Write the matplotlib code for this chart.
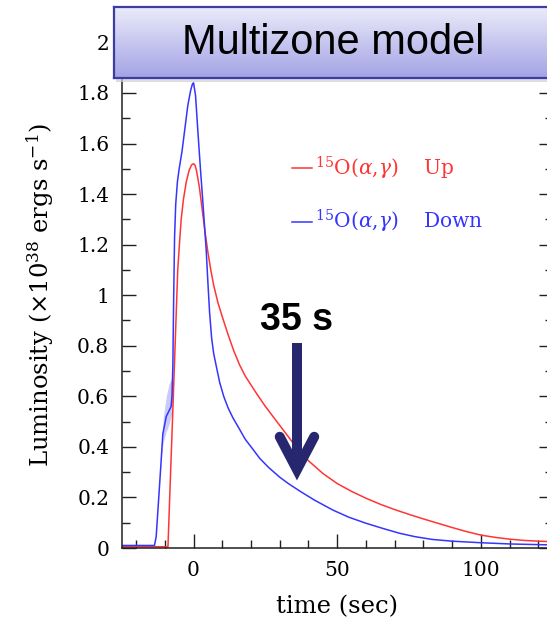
import numpy as np
import matplotlib
matplotlib.use("Agg")
import matplotlib.pyplot as plt
from matplotlib.lines import Line2D

# light curves from the multizone burst model (t in sec, L in 1e38 erg/s)
red_t = [-25, -8.9, -8.2, -7.5, -6.6, -5.5, -4.8, -4.3, -3.5, -2.5, -1.5, -0.7, 0, 0.5,
         1.0, 2.0, 3.0, 4.0, 5.0, 6.0, 7.0, 8.5, 10, 12, 14, 16, 18, 20, 22, 25, 28, 31,
         35, 40, 45, 50, 55, 60, 65, 70, 75, 80, 85, 90, 95, 100, 105, 110, 115, 120, 125]
red_L = [0.005, 0.005, 0.23, 0.45, 0.74, 1.10, 1.22, 1.30, 1.38, 1.45, 1.495, 1.515,
         1.52, 1.515, 1.495, 1.43, 1.34, 1.25, 1.17, 1.10, 1.04, 0.97, 0.915, 0.845, 0.78,
         0.725, 0.68, 0.645, 0.61, 0.56, 0.515, 0.47, 0.41, 0.345, 0.295, 0.255, 0.224,
         0.197, 0.173, 0.152, 0.133, 0.115, 0.098, 0.081, 0.065, 0.051, 0.042, 0.035,
         0.03, 0.027, 0.025]

blue_t = [-25, -13.6, -13.0, -12.1, -11.3, -10.7, -9.5, -7.8, -7.5, -7.2, -6.9, -6.6,
          -6.2, -5.6, -5.0, -4.0, -3.0, -2.0, -1.0, -0.4, 0, 0.7, 1.5, 2.4, 3.3, 4.4,
          5.0, 5.6, 6.3, 7.0, 7.9, 9.1, 10.5, 12, 13.7, 16, 18, 20.7, 23, 26, 30, 33,
          37, 42, 48.5, 54, 60, 66, 71.8, 77, 83, 90, 99.7, 110, 125]
blue_L = [0.01, 0.01, 0.045, 0.2, 0.34, 0.45, 0.52, 0.56, 0.6, 0.72, 1.0, 1.23, 1.36,
          1.45, 1.5, 1.57, 1.66, 1.75, 1.81, 1.835, 1.84, 1.79, 1.65, 1.5, 1.36, 1.18,
          1.05, 0.93, 0.83, 0.77, 0.72, 0.655, 0.6, 0.555, 0.515, 0.47, 0.43, 0.39,
          0.355, 0.32, 0.28, 0.255, 0.225, 0.19, 0.15, 0.122, 0.098, 0.077, 0.058,
          0.045, 0.034, 0.027, 0.021, 0.016, 0.012]

# oscillating band on the rise of the "Down" run
band_t = [-11.2, -10.5, -9.5, -8.5, -7.6, -7.2]
band_lo = [0.36, 0.42, 0.46, 0.49, 0.53, 0.60]
band_hi = [0.40, 0.52, 0.60, 0.65, 0.67, 0.66]

labels = [r"$^{15}$O($\alpha$,$\gamma$)    Up", r"$^{15}$O($\alpha$,$\gamma$)    Down"]
colors = ["#ff3535", "#3535ff"]

# arrow marking t = 35 s
arrow_t, arrow_top, arrow_tip = 36, 0.81, 0.31
head_dx, head_dy = 6.0, 0.13
navy = "#272770"

plt.rcParams["font.family"] = ["DejaVu Serif"]
plt.rcParams["mathtext.fontset"] = "dejavuserif"

W, H = 547, 618
fig = plt.figure(figsize=(W / 100, H / 100), dpi=100)
ax = fig.add_axes([121.7 / W, 70 / H, 431 / W, 505.6 / H])

ax.fill_between(band_t, band_lo, band_hi, color="#8c8cf0", alpha=0.45, lw=0)
ax.plot(red_t, red_L, color=colors[0], lw=1.1)
ax.plot(blue_t, blue_L, color=colors[1], lw=1.1)

ax.set_xlim(-25, 125)
ax.set_ylim(0, 2)
ax.set_xticks([0, 50, 100])
ax.set_xticks(np.arange(-20, 125, 10), minor=True)
ax.set_yticks(np.arange(0, 2.01, 0.2))
ax.set_yticks(np.arange(0, 2.01, 0.1), minor=True)
ax.set_yticklabels(["%g" % round(v, 1) for v in np.arange(0, 2.01, 0.2)])
ax.tick_params(which="both", direction="in", top=True, right=True, width=1.0,
               labelsize=14.5, pad=9, color="#202020")
ax.tick_params(which="major", length=10)
ax.tick_params(which="minor", length=5.5)
for s in ax.spines.values():
    s.set_linewidth(1.1)
    s.set_color("#202020")

ax.set_xlabel("time (sec)", fontsize=17.5, labelpad=11)
ax.set_ylabel(r"Luminosity ($\times$10$^{38}$ ergs s$^{-1}$)", fontsize=17.5, labelpad=15)

handles = [Line2D([], [], color=c, lw=1.1) for c in colors]
leg = ax.legend(handles, labels, loc="upper left", bbox_to_anchor=(0.395, 0.778),
                frameon=False, fontsize=14.5, handlelength=1.0, handletextpad=0.15,
                labelspacing=1.3, borderpad=0, borderaxespad=0)
for txt, c in zip(leg.get_texts(), colors):
    txt.set_color(c)

ax.plot([arrow_t, arrow_t], [arrow_top, arrow_tip + 0.03], color=navy, lw=7.2,
        solid_capstyle="butt")
ax.plot([arrow_t - head_dx, arrow_t, arrow_t + head_dx],
        [arrow_tip + head_dy, arrow_tip, arrow_tip + head_dy], color=navy, lw=7.2,
        solid_capstyle="round", solid_joinstyle="miter")
ax.text(arrow_t, 0.9, "35 s", ha="center", va="center", fontsize=27,
        fontweight="bold", family="Liberation Sans", color="black")

# title banner with a vertical gradient
shadow = fig.add_axes([116 / W, (H - 82) / H, (W - 112) / W, 72 / H])
shadow.set_axis_off()
shadow.add_patch(plt.Rectangle((0, 0), 1, 1, transform=shadow.transAxes,
                               color="#d0d0d0", alpha=0.7))
bx = fig.add_axes([114.3 / W, (H - 78) / H, (W - 112) / W, 71 / H])
grad = np.linspace(0, 1, 100).reshape(-1, 1)
top = np.array([0.92, 0.92, 0.98])
bot = np.array([0.64, 0.64, 0.90])
img = top + (bot - top) * grad[:, :, None]
bx.imshow(img, aspect="auto", extent=(0, 1, 0, 1), origin="upper")
bx.set_xticks([])
bx.set_yticks([])
for s in bx.spines.values():
    s.set_color("#3c3ca4")
    s.set_linewidth(1.6)
bx.text((333 - 114.3) / (W - 112), 0.5, "Multizone model", transform=bx.transAxes,
        ha="center", va="center", fontsize=30, family="Liberation Sans", color="black")

fig.savefig("out.png", dpi=100)
